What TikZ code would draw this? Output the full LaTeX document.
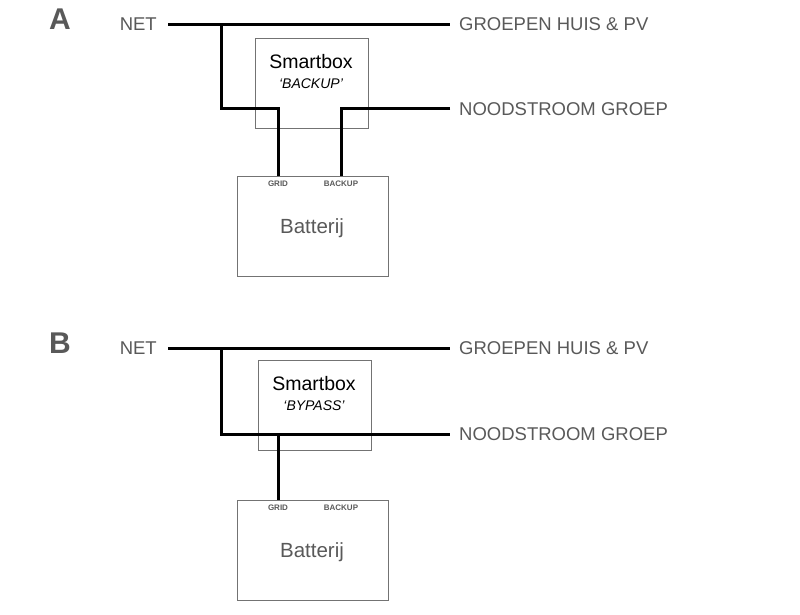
\documentclass[tikz,border=0pt]{standalone}
\usepackage{fontspec}
\setmainfont{Liberation Sans}
\begin{document}
\begin{tikzpicture}[x=1pt,y=-1pt,
 wire/.style={line width=3pt},
 box/.style={draw=black!55,line width=1pt},
 lbl/.style={text=black!65,font=\fontsize{18.5}{21}\selectfont,inner sep=0pt},
 port/.style={text=black!65,font=\bfseries\fontsize{8}{9}\selectfont,inner sep=0pt},
 big/.style={text=black!65,font=\bfseries\fontsize{30}{34}\selectfont,inner sep=0pt}]
\useasboundingbox (0,0) rectangle (800,614);
% Panel A
\node[big] (A) at (60,19) {A};
\node[lbl,anchor=east] (netA) at (157,24) {NET};
\node[lbl,anchor=west] (grA) at (459,24) {GROEPEN HUIS \& PV};
\node[lbl,anchor=west] (noA) at (459,109) {NOODSTROOM GROEP};
\node[box,minimum width=113pt,minimum height=90pt] (sbA) at (311.5,83) {};
\node[inner sep=0pt,font=\fontsize{19.5}{22}\selectfont] (sbtA) at (311,62) {Smartbox};
\node[inner sep=0pt,font=\itshape\fontsize{14}{16}\selectfont] (modeA) at (311,84) {‘BACKUP’};
\node[box,minimum width=151pt,minimum height=100pt] (batA) at (312.5,226) {};
\node[text=black!65,font=\fontsize{20.5}{24}\selectfont] (btA) at (312,228) {Batterij};
\node[port] (gA) at (278,184) {GRID};
\node[port] (bkA) at (341,184) {BACKUP};
\coordinate (a1) at (168,24); \coordinate (a2) at (450,24);
\coordinate (a3) at (221,24); \coordinate (a4) at (221,108); \coordinate (a5) at (278,108);
\coordinate (a6) at (278,176); \coordinate (a7) at (450,108); \coordinate (a8) at (341,108); \coordinate (a9) at (341,176);
\draw[wire] (a1) -- (a2);
\draw[wire] (a3) -- (a4) -- (a5) -- (a6);
\draw[wire] (a7) -- (a8) -- (a9);
% Panel B
\node[big] (B) at (60,343) {B};
\node[lbl,anchor=east] (netB) at (157,348) {NET};
\node[lbl,anchor=west] (grB) at (459,348) {GROEPEN HUIS \& PV};
\node[lbl,anchor=west] (noB) at (459,434) {NOODSTROOM GROEP};
\node[box,minimum width=113pt,minimum height=90pt] (sbB) at (314.5,405) {};
\node[inner sep=0pt,font=\fontsize{19.5}{22}\selectfont] (sbtB) at (314,384) {Smartbox};
\node[inner sep=0pt,font=\itshape\fontsize{14}{16}\selectfont] (modeB) at (314,406) {‘BYPASS’};
\node[box,minimum width=151pt,minimum height=100pt] (batB) at (312.5,550) {};
\node[text=black!65,font=\fontsize{20.5}{24}\selectfont] (btB) at (312,552) {Batterij};
\node[port] (gB) at (278,508) {GRID};
\node[port] (bkB) at (341,508) {BACKUP};
\coordinate (b1) at (168,348); \coordinate (b2) at (450,348);
\coordinate (b3) at (221,348); \coordinate (b4) at (221,434); \coordinate (b5) at (450,434);
\coordinate (b6) at (278,434); \coordinate (b7) at (278,500);
\draw[wire] (b1) -- (b2);
\draw[wire] (b3) -- (b4) -- (b5);
\draw[wire] (b6) -- (b7);
\end{tikzpicture}
\end{document}
